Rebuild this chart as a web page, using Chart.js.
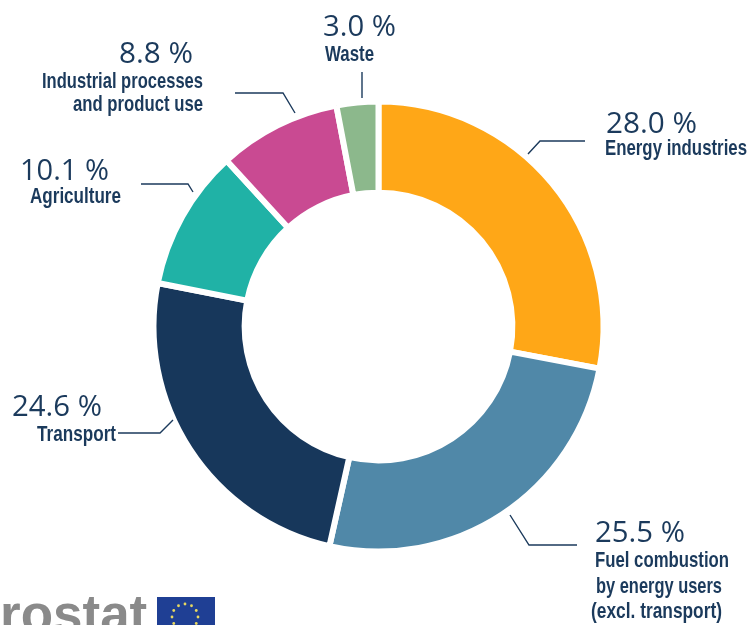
<!DOCTYPE html>
<html>
<head>
<meta charset="utf-8">
<title>Greenhouse gas emissions by source sector</title>
<script src="https://cdn.jsdelivr.net/npm/chart.js@4"></script>
<style>
    html, body { margin: 0; padding: 0; background: #fff; overflow: hidden; }
    #wrap { position: relative; width: 749px; height: 625px; }
</style>
</head>
<body>
<div id="wrap"><canvas id="donut" width="749" height="625"></canvas></div>
<script>
const categories = ['Energy industries', 'Fuel combustion by energy users (excl. transport)', 'Transport', 'Agriculture', 'Industrial processes and product use', 'Waste'];
const shares = [28.0, 25.5, 24.6, 10.1, 8.8, 3.0];
const colours = ['#ffa717', '#5088a8', '#17375b', '#20b2a6', '#c94a92', '#8cb88c'];

const NAVY = '#1b3a5c';
const PCT_FONT = '400 30px "Open Sans", sans-serif';
const NAME_FONT = 'bold 22px "Liberation Sans Narrow", "Liberation Sans", sans-serif';

// x, baseline and width of each text line, in slice order
const callouts = [
    {
        pct: [606, 133, 91],
        names: [['Energy industries', 605, 155, 142]],
        leader: [[585, 141], [540, 141], [528, 154]],
    },
    {
        pct: [595, 542, 90],
        names: [
            ['Fuel combustion', 595, 567, 134],
            ['by energy users', 596, 593, 126],
            ['(excl. transport)', 591, 618, 131],
        ],
        leader: [[510, 515], [529, 545], [577, 545]],
    },
    {
        pct: [12, 416, 90],
        names: [['Transport', 37, 441, 79]],
        leader: [[118, 433], [160, 433], [173, 420]],
    },
    {
        pct: [20, 180, 89],
        names: [['Agriculture', 30, 203, 91]],
        leader: [[141, 184], [188, 184], [193, 192]],
    },
    {
        pct: [119, 63, 74],
        names: [
            ['Industrial processes', 42, 88, 161],
            ['and product use', 73, 111, 130],
        ],
        leader: [[235, 93], [283, 93], [295, 113]],
    },
    {
        pct: [323, 36, 73],
        names: [['Waste', 325, 61, 49]],
        leader: [[362, 72], [362, 98]],
    },
];

const calloutPlugin = {
    id: 'callouts',
    afterDraw(chart) {
        const ctx = chart.ctx;
        ctx.save();
        ctx.textAlign = 'left';
        ctx.textBaseline = 'alphabetic';
        callouts.forEach((c, i) => {
            ctx.strokeStyle = NAVY;
            ctx.lineWidth = 1.4;
            ctx.beginPath();
            c.leader.forEach(([x, y], k) => (k ? ctx.lineTo(x, y) : ctx.moveTo(x, y)));
            ctx.stroke();

            ctx.fillStyle = NAVY;
            ctx.font = PCT_FONT;
            ctx.fillText(shares[i].toFixed(1) + ' %', c.pct[0], c.pct[1], c.pct[2]);
            ctx.font = NAME_FONT;
            c.names.forEach(([text, x, y, w]) => ctx.fillText(text, x, y, w));
        });
        ctx.restore();
    },
};

const logoPlugin = {
    id: 'logo',
    afterDraw(chart) {
        const ctx = chart.ctx;
        ctx.save();
        ctx.fillStyle = '#8a8a8a';
        ctx.font = 'bold 53px "Liberation Sans", sans-serif';
        ctx.textAlign = 'left';
        ctx.fillText('rostat', 0, 632);
        ctx.fillStyle = '#1f3f94';
        ctx.fillRect(157, 597, 58, 28);
        ctx.fillStyle = '#e8d860';
        for (let i = 0; i < 12; i++) {
            const a = (i * Math.PI) / 6;
            ctx.beginPath();
            ctx.arc(185 + 13 * Math.cos(a), 617 + 13 * Math.sin(a), 1.4, 0, Math.PI * 2);
            ctx.fill();
        }
        ctx.restore();
    },
};

new Chart(document.getElementById('donut').getContext('2d'), {
    type: 'doughnut',
    data: {
        labels: categories,
        datasets: [
            {
                data: shares,
                backgroundColor: colours,
                borderColor: '#ffffff',
                borderWidth: 6,
            },
        ],
    },
    options: {
        responsive: false,
        animation: false,
        cutout: '59.5%',
        layout: { padding: { left: 150.5, right: 142.5, top: 98.5, bottom: 70.5 } },
        plugins: { legend: { display: false }, tooltip: { enabled: false } },
    },
    plugins: [calloutPlugin, logoPlugin],
});
</script>
</body>
</html>
